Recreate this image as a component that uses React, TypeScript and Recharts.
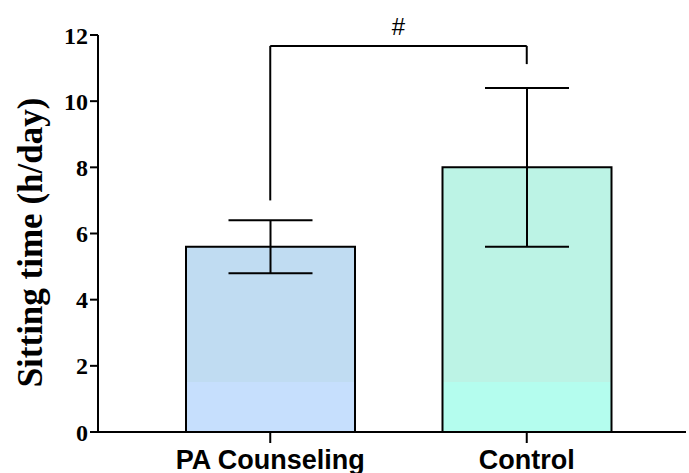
import { Bar, BarChart, Cell, ErrorBar, ReferenceLine, XAxis, YAxis } from "recharts";

const groups = ["PA Counseling", "Control"];
const means = [5.6, 8.0];
const sds = [0.8, 2.4];
const fills = ["#c0dcf2", "#bcf3e5"];
const baseFills = ["#c6dffd", "#b4fdee"];
const yTicks = [0, 2, 4, 6, 8, 10, 12];

// significance bracket (y values in h/day)
const bracketY = 11.67;
const bracketLeftEnd = 7.0;
const bracketRightEnd = 11.12;
const bandTop = 1.5; // lighter band near the base of each bar

const data = groups.map((g, i) => ({ group: g, mean: means[i], sd: sds[i] }));

const serif = "'Liberation Serif', 'Times New Roman', serif";
const sans = "'Liberation Sans', Arial, sans-serif";

function YLabel({ viewBox }: any) {
  const x = viewBox.x - 8;
  const y = viewBox.y + viewBox.height / 2 + 9;
  return (
    <text
      x={x}
      y={y}
      transform={`rotate(-90, ${x}, ${y})`}
      textAnchor="middle"
      dominantBaseline="central"
      fill="#000"
      fontSize={35}
      fontWeight={700}
      fontFamily={serif}
    >
      Sitting time (h/day)
    </text>
  );
}

export default function App() {
  return (
    <div style={{ position: "absolute", left: 0, top: 0, background: "#fff" }}>
      <BarChart width={689} height={473} data={data} margin={{ top: 35, right: 3, left: 38, bottom: 0 }}>
        <defs>
          {data.map((d, i) => {
            const off = 1 - bandTop / d.mean;
            return (
              <linearGradient key={d.group} id={`fill${i}`} x1="0" y1="0" x2="0" y2="1">
                <stop offset={0} stopColor={fills[i]} />
                <stop offset={off} stopColor={fills[i]} />
                <stop offset={off} stopColor={baseFills[i]} />
                <stop offset={1} stopColor={baseFills[i]} />
              </linearGradient>
            );
          })}
        </defs>
        <XAxis
          dataKey="group"
          height={41}
          padding={{ left: 44, right: 31 }}
          axisLine={{ stroke: "#000", strokeWidth: 2 }}
          tickLine={{ stroke: "#000", strokeWidth: 2 }}
          tickSize={11}
          tickMargin={7}
          tick={{ fill: "#000", fontSize: 27, fontWeight: 700, fontFamily: sans }}
        />
        <YAxis
          width={60}
          domain={[0, 12]}
          ticks={yTicks}
          interval={0}
          axisLine={{ stroke: "#000", strokeWidth: 2 }}
          tickLine={{ stroke: "#000", strokeWidth: 2 }}
          tickSize={8}
          tickMargin={2}
          tick={{ fill: "#000", fontSize: 24, fontWeight: 700, fontFamily: serif }}
          label={{ content: (props: any) => <YLabel {...props} /> }}
        />
        <Bar dataKey="mean" barSize={169} stroke="#000" strokeWidth={2} isAnimationActive={false}>
          {data.map((d, i) => (
            <Cell key={d.group} fill={`url(#fill${i})`} />
          ))}
          <ErrorBar dataKey="sd" width={42} stroke="#000" strokeWidth={2} isAnimationActive={false} />
        </Bar>
        <ReferenceLine
          segment={[
            { x: groups[0], y: bracketY },
            { x: groups[1], y: bracketY },
          ]}
          stroke="#000"
          strokeWidth={2}
          label={{ value: "#", position: "top", offset: 11, fill: "#000", fontSize: 24, fontFamily: sans }}
        />
        <ReferenceLine
          segment={[
            { x: groups[0], y: bracketLeftEnd },
            { x: groups[0], y: bracketY },
          ]}
          stroke="#000"
          strokeWidth={2}
        />
        <ReferenceLine
          segment={[
            { x: groups[1], y: bracketRightEnd },
            { x: groups[1], y: bracketY },
          ]}
          stroke="#000"
          strokeWidth={2}
        />
      </BarChart>
    </div>
  );
}
